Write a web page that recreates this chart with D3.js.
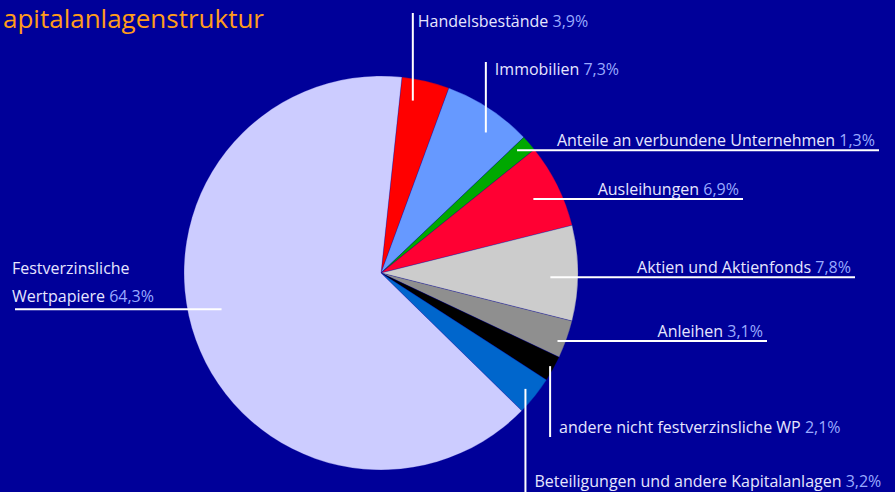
<!DOCTYPE html>
<html>
<head>
<meta charset="utf-8">
<script src="https://cdn.jsdelivr.net/npm/d3@7"></script>
<style>
  html, body { margin: 0; padding: 0; background: #000099; }
  svg { display: block; }
</style>
</head>
<body>
<svg id="chart" width="895" height="492"></svg>
<script>
// data
const categories = [
  "Handelsbestände",
  "Immobilien",
  "Anteile an verbundene Unternehmen",
  "Ausleihungen",
  "Aktien und Aktienfonds",
  "Anleihen",
  "andere nicht festverzinsliche WP",
  "Beteiligungen und andere Kapitalanlagen",
  "Festverzinsliche Wertpapiere"
];
const values = [3.9, 7.3, 1.3, 6.9, 7.8, 3.1, 2.1, 3.2, 64.3];
const colors = ["#ff0000", "#6699ff", "#00a800", "#ff0033", "#cccccc", "#8f8f8f", "#000000", "#0066cc", "#ccccff"];
const titleText = "apitalanlagenstruktur";

// label layout: kind, t = position inside slice, r = fraction of radius
const labelLayout = [
  { kind: "up", t: 0.31, r: 0.89, top: 13, dx: 5, base: 27 },
  { kind: "up", t: 0.63, r: 0.89, top: 62, dx: 9, base: 75 },
  { kind: "right", t: 0.32, r: 0.93, end: 879 },
  { kind: "right", t: 0.52, r: 0.86, end: 743 },
  { kind: "right", t: 0.55, r: 0.86, end: 855 },
  { kind: "right", t: 0.62, r: 0.96, end: 767 },
  { kind: "down", t: 0.47, r: 0.98, bottom: 437, dx: 9, base: 433 },
  { kind: "down", t: 0.51, r: 0.94, bottom: 492, dx: 9, base: 487 },
  { kind: "left", t: 0.53, r: 0.83, start: 15, x: 12, base1: 274, base2: 302 }
];

const cx = 381, cy = 273, radius = 197;
const startA = 6.1 * Math.PI / 180;
const fmt = (v) => d3.format(".1f")(v).replace(".", ",") + "%";

const svg = d3.select("#chart");

svg.append("text")
  .attr("x", 3)
  .attr("y", 28)
  .attr("fill", "#ff9c1a")
  .style("font-family", "'Open Sans', sans-serif")
  .style("font-size", "26px")
  .text(titleText);

const pie = d3.pie()
  .sort(null)
  .value((d) => d)
  .startAngle(startA)
  .endAngle(startA + 2 * Math.PI);

const arc = d3.arc().innerRadius(0).outerRadius(radius);
const arcs = pie(values);

const g = svg.append("g").attr("transform", `translate(${cx},${cy})`);

g.selectAll("path")
  .data(arcs)
  .enter()
  .append("path")
  .attr("d", arc)
  .attr("fill", (d, i) => colors[i])
  .attr("stroke", "#000099")
  .attr("stroke-width", 0.25);

// labels
const labelFont = "'Open Sans', sans-serif";
const labelSize = "16px";

arcs.forEach((d, i) => {
  const L = labelLayout[i];
  const a = d.startAngle + L.t * (d.endAngle - d.startAngle);
  const px = cx + radius * L.r * Math.sin(a);
  const py = cy - radius * L.r * Math.cos(a);
  let x1, y1, x2, y2, tx, ty, anchor = "start";

  if (L.kind === "up") {
    x1 = px; y1 = py; x2 = px; y2 = L.top;
    tx = px + L.dx; ty = L.base;
  } else if (L.kind === "down") {
    x1 = px; y1 = py; x2 = px; y2 = L.bottom;
    tx = px + L.dx; ty = L.base;
  } else if (L.kind === "right") {
    x1 = px; y1 = py; x2 = L.end; y2 = py;
    tx = L.end - 4; ty = py - 4; anchor = "end";
  } else {
    x1 = px; y1 = py; x2 = L.start; y2 = py;
    tx = L.x; ty = L.base2;
  }

  svg.append("line")
    .attr("x1", x1).attr("y1", y1)
    .attr("x2", x2).attr("y2", y2)
    .attr("stroke", "#ffffff")
    .attr("stroke-width", 2);

  const t = svg.append("text")
    .attr("x", tx)
    .attr("y", ty)
    .attr("text-anchor", anchor)
    .attr("fill", "#e6e6ff")
    .style("font-family", labelFont)
    .style("font-size", labelSize);

  if (L.kind === "left") {
    const words = categories[i].split(" ");
    svg.append("text")
      .attr("x", tx)
      .attr("y", L.base1)
      .attr("fill", "#e6e6ff")
      .style("font-family", labelFont)
      .style("font-size", labelSize)
      .text(words[0]);
    t.append("tspan").text(words.slice(1).join(" ") + " ");
  } else {
    t.append("tspan").text(categories[i] + " ");
  }
  t.append("tspan").attr("fill", "#99aaff").text(fmt(values[i]));
});
</script>
</body>
</html>
